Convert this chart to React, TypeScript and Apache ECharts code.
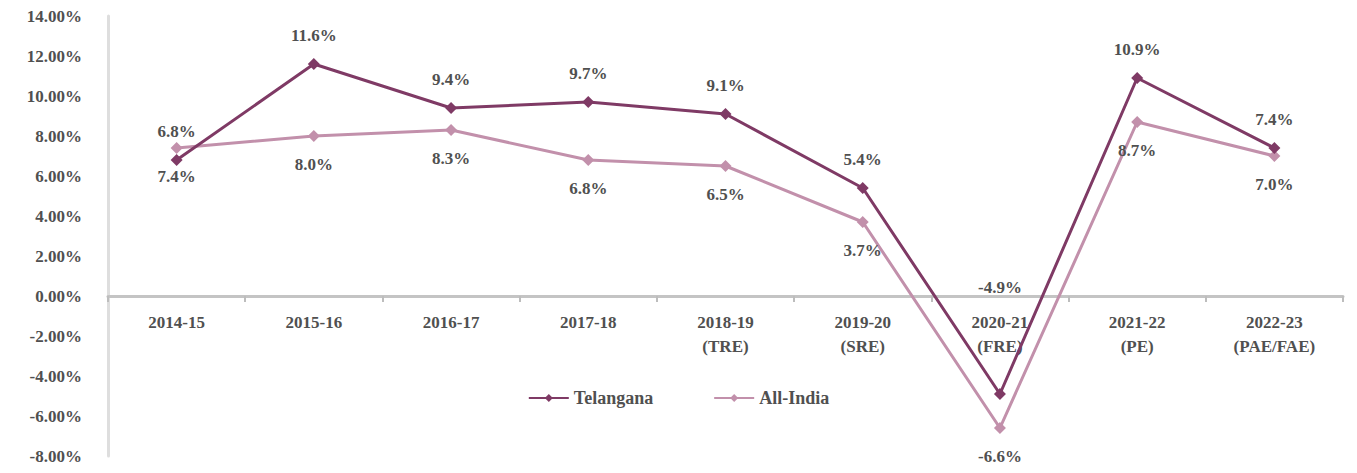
import React, { useEffect, useRef } from "react";
import * as echarts from "echarts";

const categories = [
  "2014-15",
  "2015-16",
  "2016-17",
  "2017-18",
  "2018-19\n(TRE)",
  "2019-20\n(SRE)",
  "2020-21\n(FRE)",
  "2021-22\n(PE)",
  "2022-23\n(PAE/FAE)",
];
const telangana = [6.8, 11.6, 9.4, 9.7, 9.1, 5.4, -4.9, 10.9, 7.4];
const allIndia = [7.4, 8.0, 8.3, 6.8, 6.5, 3.7, -6.6, 8.7, 7.0];
const yMin = -8;
const yMax = 14;
const yStep = 2;

const FONT = "'Liberation Serif', 'Times New Roman', serif";
const TEXT = "#505050";
const DARK = "#7F3A65";
const LIGHT = "#C290AB";
const FS = 17;

const CHART_W = 1341;
const CHART_H = 457;
const GRID = { left: 100, right: 6, top: 8, bottom: 9 };

export default function App() {
  const ref = useRef<HTMLDivElement>(null);
  useEffect(() => {
    if (!ref.current) return;
    const chart = echarts.init(ref.current, undefined, { renderer: "svg" });
    const plotH = CHART_H - GRID.top - GRID.bottom;
    const zeroOffset = -((0 - yMin) / (yMax - yMin)) * plotH;
    const labelBase = {
      show: true,
      fontFamily: FONT,
      fontSize: FS,
      fontWeight: "bold" as const,
      color: TEXT,
      formatter: (p: any) => p.value.toFixed(1) + "%",
    };
    chart.setOption({
      animation: false,
      backgroundColor: "#ffffff",
      textStyle: { fontFamily: FONT },
      grid: {
        ...GRID,
        containLabel: false,
        outerBoundsMode: "none",
      },
      legend: {
        bottom: 53,
        left: "center",
        itemGap: 60,
        itemWidth: 40,
        itemHeight: 10,
        textStyle: { fontFamily: FONT, fontSize: FS + 1, fontWeight: "bold", color: TEXT },
        data: ["Telangana", "All-India"],
      },
      xAxis: {
        type: "category",
        data: categories,
        boundaryGap: true,
        position: "bottom",
        offset: zeroOffset,
        axisLine: { show: true, onZero: false, lineStyle: { color: "#c4c4c4", width: 3 } },
        axisTick: { show: true, length: 6, lineStyle: { color: "#bdbdbd", width: 2 } },
        axisLabel: {
          fontFamily: FONT,
          fontSize: FS,
          fontWeight: "bold",
          color: TEXT,
          margin: 14,
          lineHeight: 24,
          interval: 0,
        },
      },
      yAxis: {
        type: "value",
        min: yMin,
        max: yMax,
        interval: yStep,
        axisLine: { show: true, lineStyle: { color: "#dedede", width: 3 } },
        axisTick: { show: false },
        splitLine: { show: false },
        axisLabel: {
          fontFamily: FONT,
          fontSize: FS,
          fontWeight: "bold",
          color: TEXT,
          margin: 26,
          formatter: (v: number) => v.toFixed(2) + "%",
        },
      },
      series: [
        {
          name: "All-India",
          type: "line",
          data: allIndia,
          symbol: "diamond",
          symbolSize: 12,
          lineStyle: { color: LIGHT, width: 3 },
          itemStyle: { color: LIGHT },
          label: { ...labelBase, position: "bottom", distance: 14 },
          z: 2,
        },
        {
          name: "Telangana",
          type: "line",
          data: telangana.map((v, i) =>
            i === 6 ? { value: v, label: { distance: 92 } } : v
          ),
          symbol: "diamond",
          symbolSize: 12,
          lineStyle: { color: DARK, width: 3 },
          itemStyle: { color: DARK },
          label: { ...labelBase, position: "top", distance: 14 },
          z: 3,
        },
      ],
    });
    return () => chart.dispose();
  }, []);
  return <div ref={ref} style={{ width: CHART_W, height: CHART_H }} />;
}
